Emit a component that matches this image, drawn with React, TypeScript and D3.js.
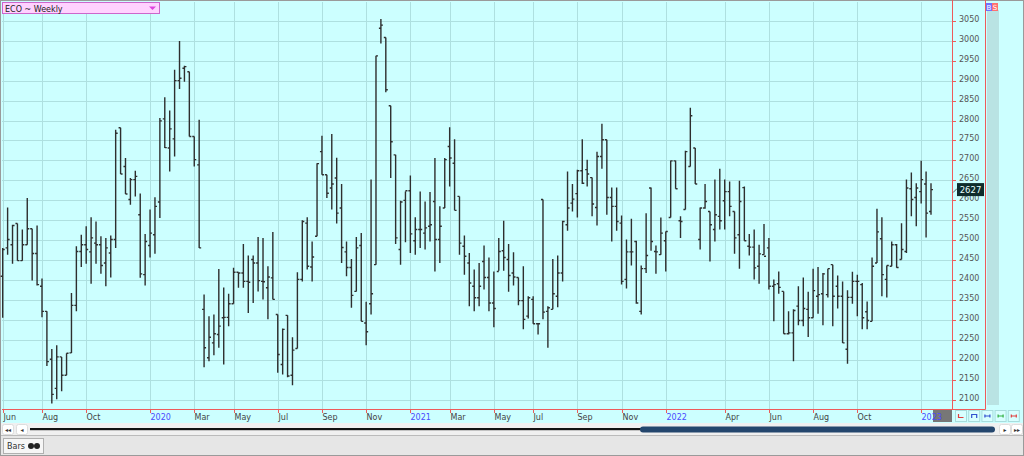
import * as d3 from 'd3';

// weekly OHLC (Jun 2019 .. Jan 2023)
const open = [
  2410, 2481, 2489, 2542, 2449, 2489, 2529, 2467, 2385, 2322, 2202, 2129, 2208, 2162, 2218, 2337, 2472, 2489, 2471, 2493,
  2489, 2443, 2468, 2502, 2782, 2685, 2602, 2652, 2564, 2414, 2487, 2514, 2596, 2804, 2731, 2754, 2900, 2931, 2922, 2760,
  2689, 2327, 2206, 2243, 2264, 2306, 2307, 2341, 2420, 2418, 2397, 2452, 2443, 2397, 2381, 2406, 2314, 2189, 2312, 2162,
  2229, 2402, 2543, 2433, 2510, 2722, 2664, 2631, 2656, 2581, 2471, 2432, 2372, 2487, 2293, 2341, 2439, 3031, 3008, 2837,
  2714, 2477, 2600, 2624, 2499, 2527, 2518, 2535, 2597, 2502, 2581, 2735, 2693, 2610, 2485, 2443, 2385, 2356, 2447, 2407,
  2343, 2422, 2474, 2452, 2418, 2407, 2349, 2310, 2352, 2291, 2602, 2322, 2327, 2360, 2418, 2539, 2593, 2617, 2674, 2677,
  2657, 2582, 2710, 2752, 2607, 2585, 2543, 2402, 2471, 2497, 2322, 2429, 2631, 2472, 2464, 2499, 2557, 2699, 2549, 2577,
  2685, 2731, 2502, 2581, 2572, 2527, 2560, 2599, 2622, 2572, 2514, 2632, 2485, 2483, 2435, 2464, 2481, 2385, 2391, 2372,
  2266, 2268, 2335, 2299, 2327, 2306, 2360, 2366, 2364, 2439, 2385, 2360, 2227, 2357, 2397, 2389, 2321, 2297, 2443, 2504,
  2402, 2435, 2489, 2452, 2472, 2629, 2607, 2622, 2641, 2572,
];
const high = [
  2481, 2582, 2539, 2542, 2527, 2606, 2529, 2537, 2404, 2322, 2228, 2237, 2208, 2217, 2368, 2485, 2514, 2535, 2558, 2547,
  2510, 2506, 2512, 2777, 2782, 2706, 2656, 2674, 2617, 2516, 2577, 2608, 2806, 2858, 2825, 2927, 2999, 2937, 2922, 2760,
  2802, 2364, 2310, 2314, 2428, 2382, 2366, 2431, 2420, 2491, 2462, 2462, 2508, 2506, 2435, 2521, 2314, 2279, 2312, 2257,
  2420, 2550, 2558, 2497, 2693, 2762, 2664, 2766, 2707, 2641, 2497, 2453, 2508, 2518, 2346, 2652, 2962, 3054, 3008, 2837,
  2714, 2599, 2622, 2662, 2558, 2622, 2597, 2621, 2706, 2585, 2706, 2783, 2753, 2610, 2512, 2468, 2427, 2443, 2487, 2457,
  2422, 2506, 2549, 2491, 2470, 2407, 2435, 2360, 2360, 2293, 2602, 2335, 2453, 2462, 2549, 2672, 2641, 2677, 2753, 2702,
  2657, 2722, 2792, 2752, 2632, 2632, 2562, 2502, 2554, 2499, 2437, 2568, 2632, 2487, 2557, 2522, 2700, 2700, 2560, 2724,
  2832, 2731, 2582, 2641, 2572, 2652, 2679, 2652, 2647, 2572, 2649, 2635, 2516, 2527, 2489, 2541, 2506, 2402, 2422, 2372,
  2322, 2327, 2385, 2407, 2371, 2429, 2433, 2418, 2429, 2439, 2412, 2397, 2375, 2421, 2414, 2393, 2347, 2457, 2579, 2558,
  2437, 2497, 2491, 2543, 2652, 2670, 2643, 2699, 2672, 2643,
];
const low = [
  2306, 2464, 2441, 2449, 2449, 2489, 2399, 2387, 2307, 2185, 2091, 2102, 2122, 2162, 2218, 2322, 2433, 2441, 2391, 2441,
  2416, 2385, 2407, 2481, 2666, 2616, 2589, 2610, 2406, 2387, 2457, 2466, 2556, 2731, 2672, 2710, 2879, 2897, 2760, 2685,
  2481, 2182, 2197, 2212, 2231, 2189, 2285, 2341, 2381, 2381, 2318, 2343, 2372, 2352, 2302, 2352, 2168, 2164, 2157, 2137,
  2229, 2397, 2427, 2397, 2510, 2664, 2606, 2577, 2542, 2443, 2410, 2331, 2372, 2297, 2237, 2314, 2439, 2993, 2871, 2656,
  2491, 2439, 2495, 2468, 2464, 2481, 2477, 2497, 2422, 2443, 2581, 2635, 2575, 2464, 2414, 2335, 2322, 2335, 2377, 2322,
  2282, 2424, 2424, 2371, 2387, 2337, 2277, 2304, 2291, 2264, 2302, 2231, 2327, 2332, 2397, 2524, 2572, 2557, 2641, 2635,
  2560, 2537, 2679, 2564, 2497, 2524, 2389, 2379, 2437, 2341, 2314, 2418, 2474, 2416, 2464, 2422, 2557, 2629, 2506, 2577,
  2685, 2641, 2477, 2579, 2447, 2497, 2527, 2527, 2560, 2466, 2429, 2499, 2462, 2402, 2391, 2464, 2377, 2297, 2366, 2266,
  2264, 2197, 2287, 2285, 2258, 2306, 2316, 2287, 2357, 2285, 2329, 2243, 2191, 2341, 2310, 2277, 2277, 2297, 2443, 2360,
  2357, 2435, 2431, 2452, 2468, 2560, 2535, 2592, 2507, 2564,
];
const close = [
  2477, 2502, 2537, 2449, 2489, 2529, 2467, 2389, 2322, 2196, 2114, 2208, 2162, 2217, 2337, 2472, 2489, 2477, 2506, 2489,
  2437, 2481, 2502, 2768, 2666, 2616, 2652, 2660, 2416, 2497, 2518, 2585, 2799, 2732, 2779, 2900, 2906, 2935, 2760, 2702,
  2481, 2231, 2257, 2266, 2285, 2307, 2341, 2420, 2418, 2397, 2395, 2443, 2399, 2396, 2408, 2352, 2214, 2277, 2160, 2225,
  2402, 2547, 2435, 2458, 2692, 2664, 2618, 2641, 2568, 2482, 2432, 2362, 2481, 2297, 2271, 2366, 2962, 3039, 2877, 2747,
  2506, 2596, 2624, 2516, 2527, 2527, 2531, 2539, 2502, 2535, 2702, 2706, 2575, 2493, 2460, 2393, 2356, 2385, 2407, 2343,
  2329, 2472, 2457, 2412, 2408, 2349, 2302, 2356, 2291, 2291, 2320, 2331, 2366, 2418, 2547, 2581, 2603, 2674, 2643, 2666,
  2591, 2710, 2752, 2607, 2585, 2547, 2397, 2471, 2471, 2343, 2429, 2462, 2497, 2471, 2518, 2522, 2699, 2629, 2547, 2722,
  2812, 2641, 2581, 2597, 2539, 2564, 2549, 2622, 2585, 2506, 2597, 2499, 2483, 2431, 2466, 2460, 2385, 2389, 2382, 2266,
  2268, 2324, 2299, 2329, 2306, 2374, 2364, 2416, 2429, 2360, 2360, 2243, 2357, 2397, 2397, 2306, 2299, 2435, 2521, 2414,
  2437, 2489, 2432, 2477, 2631, 2602, 2631, 2652, 2568, 2627,
];

const priceTicks = d3.range(2100, 3051, 50);

const monthTicks = [
  { label: 'Jun', date: '2019-06-07' },
  { label: 'Aug', date: '2019-08-02' },
  { label: 'Oct', date: '2019-10-04' },
  { label: '2020', date: '2020-01-03' },
  { label: 'Mar', date: '2020-03-06' },
  { label: 'May', date: '2020-05-01' },
  { label: 'Jul', date: '2020-07-03' },
  { label: 'Sep', date: '2020-09-04' },
  { label: 'Nov', date: '2020-11-06' },
  { label: '2021', date: '2021-01-08' },
  { label: 'Mar', date: '2021-03-05' },
  { label: 'May', date: '2021-05-07' },
  { label: 'Jul', date: '2021-07-02' },
  { label: 'Sep', date: '2021-09-03' },
  { label: 'Nov', date: '2021-11-05' },
  { label: '2022', date: '2022-01-07' },
  { label: 'Apr', date: '2022-04-01' },
  { label: 'Jun', date: '2022-06-03' },
  { label: 'Aug', date: '2022-08-05' },
  { label: 'Oct', date: '2022-10-07' },
  { label: '2023', date: '2023-01-06' },
];

const weeks = d3.timeFriday.range(new Date(2019, 5, 7), new Date(2023, 0, 21)).slice(0, close.length);
const parse = d3.timeParse('%Y-%m-%d');

const FONT = 'DejaVu Sans, Verdana, sans-serif';
const RED = '#ee5a5a';
const GRID = '#aee0e0';
const BG = '#ccffff';

export default function App() {
  const plot = { left: 2, right: 952, top: 2, bottom: 409 };
  const x = d3.scaleLinear().domain([0, close.length - 1]).range([2.7, 931]);
  const y = d3.scaleLinear().domain([2100, 3050]).range([400, 20.7]);
  const bisect = d3.bisector((d: Date) => d.getTime()).left;
  const ticks = monthTicks.map((t) => {
    const i = bisect(weeks, parse(t.date)!.getTime());
    return { ...t, x: Math.round(x(i)) + 0.5, year: /^\d{4}$/.test(t.label) };
  });
  const last = close[close.length - 1];

  return (
    <svg
      width={1024}
      height={456}
      style={{ position: 'absolute', left: 0, top: 0, display: 'block' }}
      fontFamily={FONT}
    >
      <rect x={0} y={0} width={1024} height={456} fill="#f0f0f0" />
      <rect x={1} y={1} width={1022} height={422} fill={BG} />
      <rect x={0.5} y={0.5} width={1023} height={455} fill="none" stroke="#9a9a9a" />

      {/* grid */}
      <g clipPath="url(#clip)">
        {priceTicks.map((p) => (
          <line key={p} x1={plot.left} x2={plot.right} y1={Math.round(y(p)) + 0.5} y2={Math.round(y(p)) + 0.5} stroke={GRID} />
        ))}
        {ticks.map((t, i) => (
          <line key={i} x1={t.x} x2={t.x} y1={plot.top} y2={plot.bottom} stroke={GRID} />
        ))}
      </g>
      <defs>
        <clipPath id="clip">
          <rect x={plot.left} y={plot.top} width={plot.right - plot.left} height={plot.bottom - plot.top} />
        </clipPath>
      </defs>

      {/* OHLC bars */}
      <g stroke="#2e2e2e" strokeWidth={1.4} fill="none">
        {close.map((c, i) => {
          const cx = x(i);
          return (
            <path
              key={i}
              d={`M${cx},${y(high[i])}V${y(low[i])}M${cx - 2},${y(open[i])}H${cx}M${cx},${y(c)}H${cx + 2}`}
            />
          );
        })}
      </g>

      {/* title box */}
      <rect x={2.5} y={2.5} width={157} height={11} fill="#ffd2ff" stroke="#cc66cc" />
      <text x={5} y={11.5} fontSize={8} fill="#222">ECO ~ Weekly</text>
      <path d="M149,6.5h7l-3.5,3.5z" fill="#dd44dd" />

      {/* axes frame */}
      <line x1={plot.left} x2={985.5} y1={409.5} y2={409.5} stroke={RED} />
      <line x1={952.5} x2={952.5} y1={0} y2={409.5} stroke={RED} />
      <line x1={985.5} x2={985.5} y1={0} y2={409.5} stroke={RED} />

      {/* price axis */}
      {priceTicks.map((p) => {
        const py = Math.round(y(p)) + 0.5;
        return (
          <g key={p}>
            <line x1={952} x2={956} y1={py} y2={py} stroke={RED} />
            <text x={959} y={py + 0.5} fontSize={8} fill="#555">{p}</text>
          </g>
        );
      })}
      <line x1={953} y1={y(last) + 3} x2={957} y2={y(last) - 1} stroke="#555" />
      <rect x={957} y={y(last) - 6.5} width={27} height={13} fill="#0e2c2c" />
      <text x={970.5} y={y(last) + 3} fontSize={8.5} fill="#e8ffff" textAnchor="middle">{last}</text>

      {/* right strip */}
      <rect x={987} y={10} width={12} height={395} fill="#b9e3e3" />
      <rect x={986} y={3} width={6} height={8} fill="#7070ff" />
      <rect x={992} y={3} width={6} height={8} fill="#ff7070" />
      <text x={989} y={10} fontSize={7} fill="#fff" textAnchor="middle">B</text>
      <text x={995} y={10} fontSize={7} fill="#fff" textAnchor="middle">S</text>

      {/* time axis */}
      <rect x={933} y={410} width={19} height={12} fill="#777" />
      {ticks.map((t, i) => (
        <g key={i}>
          <line x1={t.x} x2={t.x} y1={409} y2={413} stroke={RED} />
          <text x={t.x} y={420} fontSize={8} fill={t.year ? '#4b4bff' : '#444'}>{t.label}</text>
        </g>
      ))}

      {/* small tool buttons */}
      {['#e04040', '#3050d0', '#3050d0', '#30b040', '#e04040'].map((c, i) => (
        <g key={i} transform={`translate(${955 + i * 13.2},410)`}>
          <rect x={0.5} y={0.5} width={11} height={11} fill="#d8ffff" stroke="#a8dcdc" />
          <path d={i === 1 ? 'M3.5,8V4.5H8.5V8' : i === 0 ? 'M3.5,4V7.5H8.5' : 'M3.5,4.5V7.5M3.5,6H8.5M8.5,4.5V7.5'} stroke={c} fill="none" strokeWidth={1.2} />
        </g>
      ))}

      {/* scroll bar */}
      <rect x={1} y={423} width={1022} height={11} fill="#f0f0f0" />
      {[2, 16].map((bx, i) => (
        <g key={bx}>
          <rect x={bx + 0.5} y={424.5} width={11} height={10} rx={2} fill="#fff" stroke="#ddd" />
          <text x={bx + 6} y={432} fontSize={6} textAnchor="middle" fill="#333">{i === 0 ? '◂◂' : '◂'}</text>
        </g>
      ))}
      {[999, 1011].map((bx, i) => (
        <g key={bx}>
          <rect x={bx + 0.5} y={424.5} width={11} height={10} rx={2} fill="#fff" stroke="#ddd" />
          <text x={bx + 6} y={432} fontSize={6} textAnchor="middle" fill="#333">{i === 0 ? '▸' : '▸▸'}</text>
        </g>
      ))}
      <rect x={30} y={428} width={612} height={2.2} fill="#111" />
      <rect x={640} y={426.5} width={355} height={6} rx={3} fill="#24466d" />

      {/* bottom bar */}
      <rect x={1} y={435} width={1022} height={20} fill="#e6e6e6" />
      <line x1={1} x2={1023} y1={435.5} y2={435.5} stroke="#bbb" />
      <rect x={3.5} y={438.5} width={40} height={15} fill="#f6f6f6" stroke="#b0b0b0" />
      <text x={7} y={449} fontSize={8} fill="#333">Bars</text>
      <circle cx={31} cy={446} r={3} fill="#222" />
      <circle cx={37} cy={446} r={3} fill="#222" />
    </svg>
  );
}
